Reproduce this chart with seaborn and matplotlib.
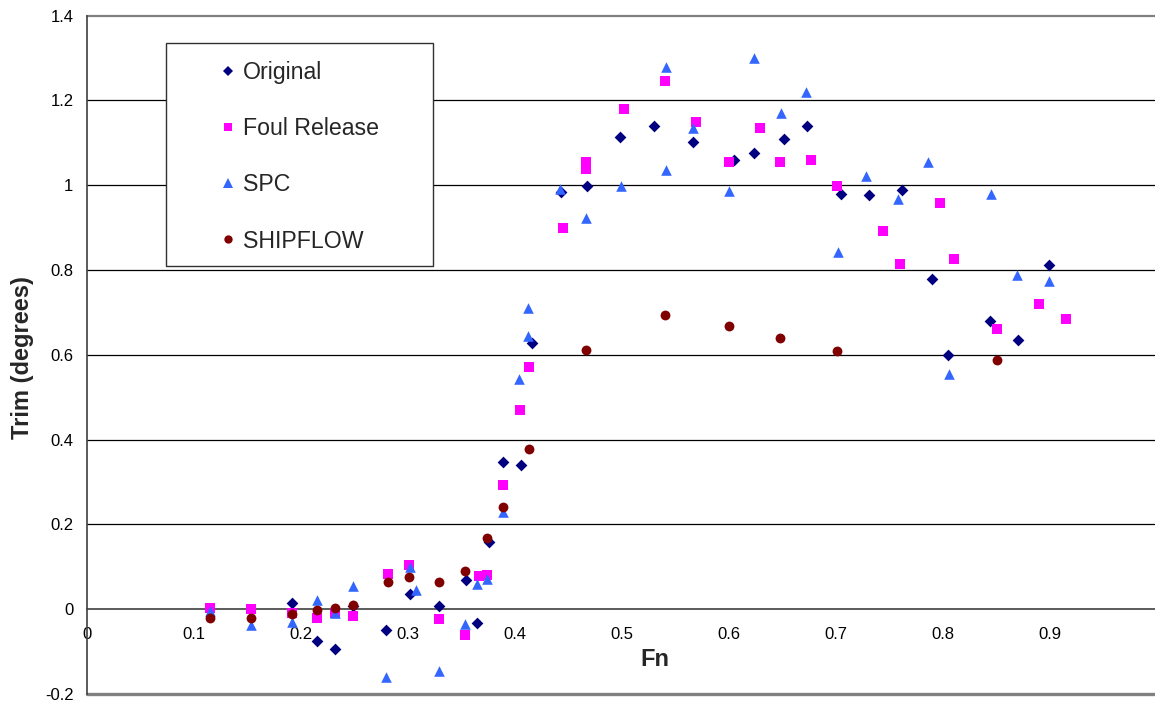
import numpy as np
import pandas as pd
import matplotlib
matplotlib.use("Agg")
import matplotlib.pyplot as plt
from matplotlib.patches import Rectangle
import seaborn as sns

# Trim versus Froude number for four hull/prediction cases
orig_fn = [0.1916, 0.2144, 0.2315, 0.2486, 0.2792, 0.3016, 0.3284, 0.354, 0.3645, 0.3754,
           0.3885, 0.405, 0.4153, 0.4429, 0.4673, 0.4981, 0.5296, 0.5664, 0.6044, 0.6231,
           0.6508, 0.6723, 0.7041, 0.7306, 0.7614, 0.7891, 0.804, 0.8437, 0.8701, 0.8988]
orig_trim = [0.014, -0.076, -0.094, 0.007, -0.050, 0.037, 0.008, 0.069, -0.033, 0.158,
             0.348, 0.340, 0.629, 0.983, 0.999, 1.115, 1.140, 1.103, 1.059, 1.077,
             1.109, 1.139, 0.980, 0.978, 0.989, 0.779, 0.599, 0.681, 0.635, 0.812]

foul_fn = [0.1149, 0.1530, 0.1916, 0.2144, 0.2315, 0.2486, 0.2813, 0.3006, 0.3284, 0.353,
           0.366, 0.3738, 0.3885, 0.4047, 0.4128, 0.4449, 0.4658, 0.4658, 0.5016, 0.540,
           0.5686, 0.600, 0.6287, 0.647, 0.6761, 0.7004, 0.744, 0.7592, 0.7972, 0.810,
           0.850, 0.8894, 0.915]
foul_trim = [0.003, 0.000, -0.010, -0.021, -0.008, -0.017, 0.083, 0.105, -0.024, -0.062,
             0.079, 0.080, 0.293, 0.469, 0.571, 0.900, 1.038, 1.056, 1.180, 1.246,
             1.150, 1.054, 1.135, 1.054, 1.060, 0.999, 0.891, 0.815, 0.958, 0.826,
             0.661, 0.719, 0.684]

spc_fn = [0.1149, 0.1530, 0.1916, 0.2144, 0.2315, 0.2486, 0.2792, 0.3016, 0.3072, 0.3284,
          0.353, 0.3645, 0.3738, 0.3885, 0.4037, 0.4122, 0.4122, 0.4418, 0.4661, 0.499,
          0.5408, 0.5408, 0.5664, 0.600, 0.6231, 0.6483, 0.6714, 0.7016, 0.728, 0.758,
          0.7857, 0.805, 0.8446, 0.8689, 0.8988]
spc_trim = [-0.004, -0.037, -0.030, 0.022, -0.008, 0.055, -0.159, 0.100, 0.045, -0.145,
            -0.035, 0.059, 0.072, 0.230, 0.543, 0.645, 0.710, 0.991, 0.922, 0.999,
            1.036, 1.278, 1.134, 0.987, 1.300, 1.170, 1.219, 0.843, 1.021, 0.968,
            1.054, 0.554, 0.980, 0.788, 0.775]

ship_fn = [0.1149, 0.1530, 0.1916, 0.2144, 0.2315, 0.2486, 0.2813, 0.3006, 0.3284, 0.353,
           0.3738, 0.3885, 0.4128, 0.466, 0.540, 0.600, 0.647, 0.7004, 0.850]
ship_trim = [-0.020, -0.021, -0.012, -0.002, 0.002, 0.011, 0.064, 0.077, 0.064, 0.090,
             0.169, 0.241, 0.378, 0.612, 0.693, 0.669, 0.640, 0.609, 0.588]

series_names = ["Original", "Foul Release", "SPC", "SHIPFLOW"]
x_ticks = [0, 0.1, 0.2, 0.3, 0.4, 0.5, 0.6, 0.7, 0.8, 0.9, 1.0]
x_tick_labels = ["0", "0.1", "0.2", "0.3", "0.4", "0.5", "0.6", "0.7", "0.8", "0.9", ""]
y_ticks = [-0.2, 0, 0.2, 0.4, 0.6, 0.8, 1.0, 1.2, 1.4]
y_tick_labels = ["-0.2", "0", "0.2", "0.4", "0.6", "0.8", "1", "1.2", "1.4"]

frames = []
for name, fn, tr in zip(series_names,
                        [orig_fn, foul_fn, spc_fn, ship_fn],
                        [orig_trim, foul_trim, spc_trim, ship_trim]):
    frames.append(pd.DataFrame({"Fn": fn, "Trim": tr, "Series": name}))
df = pd.concat(frames, ignore_index=True)

palette = {"Original": "#000080", "Foul Release": "#FF00FF",
           "SPC": "#3366FF", "SHIPFLOW": "#800000"}
markers = {"Original": "D", "Foul Release": "s", "SPC": "^", "SHIPFLOW": "o"}
msize = {"Original": 36, "Foul Release": 48, "SPC": 58, "SHIPFLOW": 50}

sns.set_theme(style="white")
plt.rcParams["font.family"] = ["Liberation Sans", "DejaVu Sans"]

W, H = 1155, 704
fig = plt.figure(figsize=(W / 100, H / 100), dpi=100)
left_px, right_px = 87.3, 1157.3
top_px, bot_px = 15.7, 694.0
ax = fig.add_axes([left_px / W, 1 - bot_px / H,
                   (right_px - left_px) / W, (bot_px - top_px) / H])

for name in series_names:
    sub = df[df["Series"] == name]
    sns.scatterplot(data=sub, x="Fn", y="Trim", ax=ax, color=palette[name],
                    marker=markers[name], s=msize[name], linewidth=0,
                    zorder=3, legend=False)

ax.set_xlim(0, 1.0)
ax.set_ylim(-0.2, 1.4)

# horizontal gridlines
for yv in [0.2, 0.4, 0.6, 0.8, 1.0, 1.2]:
    ax.axhline(yv, color="black", lw=0.9, zorder=1)
ax.axhline(1.4, color="#808080", lw=1.6, zorder=1, clip_on=False)
ax.axhline(-0.2, color="#808080", lw=2.4, zorder=1, clip_on=False)

for s in ["top", "right"]:
    ax.spines[s].set_visible(False)
ax.spines["left"].set_color("#404040")
ax.spines["left"].set_linewidth(1.2)
ax.spines["bottom"].set_position(("data", 0))
ax.spines["bottom"].set_color("#404040")
ax.spines["bottom"].set_linewidth(1.2)

ax.set_xticks(x_ticks)
ax.set_xticklabels(x_tick_labels, fontsize=12, color="black")
ax.set_yticks(y_ticks)
ax.set_yticklabels(y_tick_labels, fontsize=12, color="black")
ax.tick_params(axis="x", direction="inout", length=8, width=1, colors="#404040",
               pad=9, labelcolor="black")
ax.tick_params(axis="y", direction="out", length=4, width=1, colors="#404040",
               pad=6, labelcolor="black")

ax.set_xlabel("")
ax.set_ylabel("")
fig.text(655 / W, 1 - 660 / H, "Fn", fontsize=17, fontweight="bold",
         ha="center", va="center")
fig.text(23 / W, 1 - 358 / H, "Trim (degrees)", fontsize=17, fontweight="bold",
         rotation=90, ha="center", va="center")

# legend box
fig.patches.append(Rectangle((166 / W, 1 - 266 / H), (433 - 166) / W, (266 - 43) / H,
                             transform=fig.transFigure, facecolor="white",
                             edgecolor="#303030", lw=1.0, zorder=5))
handles = [plt.Line2D([], [], linestyle="none", marker=markers[n], color=palette[n],
                      markersize={"Original": 5, "Foul Release": 6, "SPC": 6.5,
                                  "SHIPFLOW": 6}[n], markeredgewidth=0)
           for n in series_names]
leg = fig.legend(handles, series_names, loc="upper left",
                 bbox_to_anchor=(218.5 / W, 1 - 61 / H), frameon=False,
                 fontsize=16.7, borderpad=0, borderaxespad=0, handlelength=0.8,
                 handletextpad=0.25, labelspacing=1.43)
leg.set_zorder(6)

fig.savefig("out.png", dpi=100, facecolor="white")
